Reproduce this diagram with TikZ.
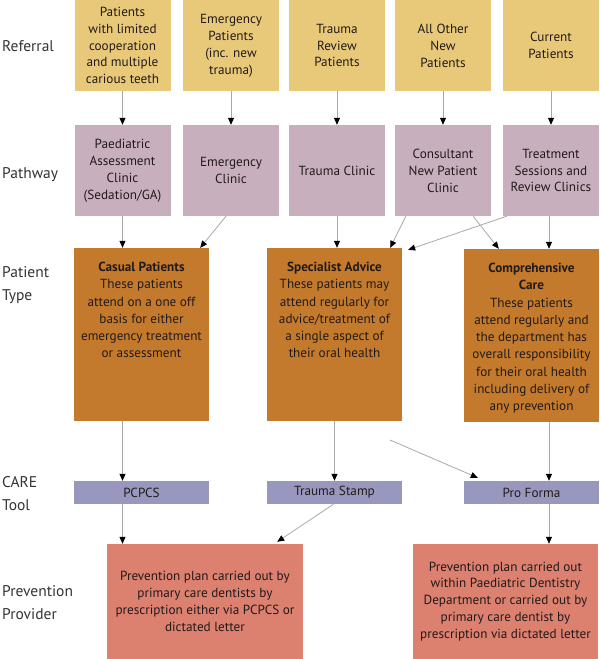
\documentclass[tikz,border=0pt]{standalone}
\usepackage{fontspec}
\setmainfont{PT Sans}
\usetikzlibrary{arrows.meta,calc}
\definecolor{refc}{HTML}{E8C97A}
\definecolor{pathc}{HTML}{C8AFBE}
\definecolor{typec}{HTML}{C47A2C}
\definecolor{toolc}{HTML}{9898BE}
\definecolor{provc}{HTML}{DC8070}
\definecolor{txtc}{HTML}{221A1A}
\definecolor{linec}{HTML}{A8A8A8}
\tikzset{
  box/.style={rectangle, inner sep=2pt, align=center, text=txtc,
    font=\fontsize{13.2}{16.9}\selectfont},
  typetext/.style={box, anchor=north, yshift=-12pt,
    font=\fontsize{13.2}{17.3}\selectfont},
  refbox/.style={box, fill=refc, minimum width=96pt, minimum height=91pt},
  pathbox/.style={box, fill=pathc, minimum width=96pt, minimum height=91pt},
  typebox/.style={box, fill=typec, minimum width=135pt, minimum height=173pt},
  toolbox/.style={box, fill=toolc, minimum width=135pt, minimum height=23pt},
  provbox/.style={box, fill=provc, minimum height=115pt},
  rowlabel/.style={anchor=west, align=left, text=black!80,
    font=\fontsize{15.5}{23}\selectfont, inner sep=0pt},
  conn/.style={draw=linec, line width=0.8pt,
    -{Triangle[length=7pt,width=6pt,fill=black,color=black]}},
}
\begin{document}
\begin{tikzpicture}[x=1pt,y=-1pt]
\useasboundingbox (0,0) rectangle (600,659);
% Referral row
\node[refbox] (r1) at (122.5,45.5) {Patients\\with limited\\cooperation\\and multiple\\carious teeth};
\node[refbox] (r2) at (231,45.5) {Emergency\\Patients\\(inc. new\\trauma)};
\node[refbox] (r3) at (337,45.5) {Trauma\\Review\\Patients};
\node[refbox] (r4) at (443,45.5) {All Other\\New\\Patients};
\node[refbox] (r5) at (551,45.5) {Current\\Patients};
% Pathway row
\node[pathbox] (p1) at (122.5,170.5) {Paediatric\\Assessment\\Clinic\\(Sedation/GA)};
\node[pathbox] (p2) at (231,170.5) {Emergency\\Clinic};
\node[pathbox] (p3) at (337,170.5) {Trauma Clinic};
\node[pathbox] (p4) at (443,170.5) {Consultant\\New Patient\\Clinic};
\node[pathbox] (p5) at (551,170.5) {Treatment\\Sessions and\\Review Clinics};
% Patient type row
\node[typebox] (cas) at (141.5,334.5) {};
\node[typetext] (cast) at (cas.north) {\textbf{Casual Patients}\\These patients\\attend on a one off\\basis for either\\emergency treatment\\or assessment};
\node[typebox] (spec) at (334.5,334.5) {};
\node[typetext] (spect) at (spec.north) {\textbf{Specialist Advice}\\These patients may\\attend regularly for\\advice/treatment of\\a single aspect of\\their oral health};
\node[typebox] (comp) at (531.5,335.5) {};
\node[typetext] (compt) at (comp.north) {\textbf{Comprehensive}\\\textbf{Care}\\These patients\\attend regularly and\\the department has\\overall responsibility\\for their oral health\\including delivery of\\any prevention};
% CARE tool row
\node[toolbox] (pc) at (141.5,492.5) {PCPCS};
\node[toolbox] (ts) at (334.5,492.5) {Trauma Stamp};
\node[toolbox] (pf) at (531.5,492.5) {Pro Forma};
% Prevention provider row
\node[provbox, minimum width=196pt] (lp) at (205,601.5) {Prevention plan carried out by\\primary care dentists by\\prescription either via PCPCS or\\dictated letter};
\node[provbox, minimum width=185pt] (rp) at (505.5,601.5) {Prevention plan carried out\\within Paediatric Dentistry\\Department or carried out by\\primary care dentist by\\prescription via dictated letter};
% Row labels
\node[rowlabel] (lab1) at (2,46) {Referral};
\node[rowlabel] (lab2) at (2,175) {Pathway};
\node[rowlabel] (lab3) at (2,285) {Patient\\Type};
\node[rowlabel] (lab4) at (2,494) {CARE\\Tool};
\node[rowlabel] (lab5) at (2,603) {Prevention\\Provider};
% helper columns
\coordinate (xl) at (p1.south);
\coordinate (xr) at ($(p5.south)+(-2,0)$);
% Connectors referral -> pathway
\foreach \i in {1,...,5} {
  \draw[conn] (r\i.south) -- (p\i.north);
}
% pathway -> patient type
\draw[conn] (p1.south) -- (xl |- cas.north);
\draw[conn] ($(p2.south)+(-5,0)$) -- ($(cas.north east)+(-9,0)$);
\draw[conn] (p3.south) -- (p3.south |- spec.north);
\draw[conn] ($(p4.south west)+(11,0)$) -- ($(spec.north east)+(-12,0)$);
\draw[conn] ($(p5.south west)+(4,0)$) -- ($(spec.north east)+(6,2)$);
\draw[conn] ($(p4.south east)+(-18,0)$) -- ($(comp.north west)+(35,0)$);
\draw[conn] (xr) -- (xr |- comp.north);
% patient type -> tool
\draw[conn] (xl |- cas.south) -- (xl |- pc.north);
\draw[conn] (spec.south) -- (spec.south |- ts.north);
\draw[conn] (xr |- comp.south) -- (xr |- pf.north);
\coordinate (free) at (390,440);
\draw[conn] (free) -- ($(pf.north west)+(14,-3)$);
% tool -> provider
\draw[conn] (xl |- pc.south) -- (xl |- lp.north);
\draw[conn] ($(ts.south)+(-1,0)$) -- ($(lp.north east)+(-26,-2)$);
\draw[conn] (xr |- pf.south) -- (xr |- rp.north);
\end{tikzpicture}
\end{document}
